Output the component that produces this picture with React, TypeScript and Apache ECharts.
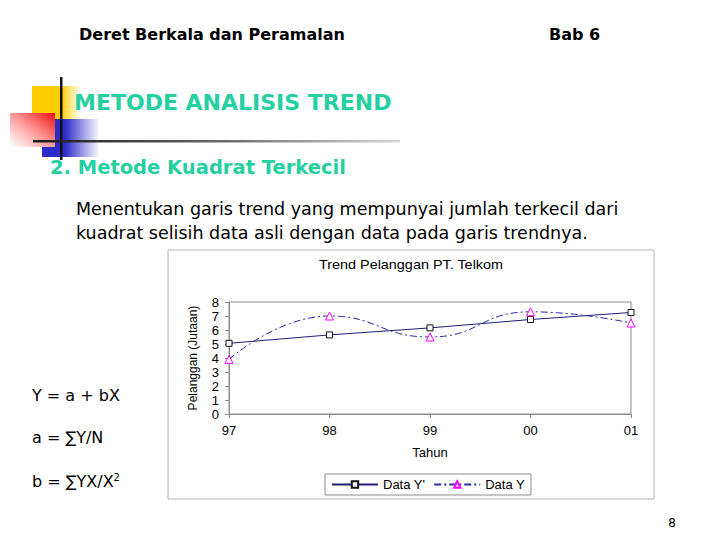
import React, { useEffect, useRef } from "react";
import * as echarts from "echarts";

const years = ["97", "98", "99", "00", "01"];
const trendValues = [5.05, 5.65, 6.15, 6.75, 7.25];
const actualValues = [3.9, 7.0, 5.5, 7.3, 6.5];
const seriesNames = ["Data Y'", "Data Y"];

const TEAL = "#24d0a0";
const SLIDE_FONT = "DejaVu Sans";
const CHART_FONT = "Liberation Sans";

export default function App() {
  const ref = useRef<HTMLDivElement>(null);
  useEffect(() => {
    if (!ref.current) return;
    const chart = echarts.init(ref.current, undefined, { renderer: "svg" });
    const lin = (x: number, y: number, x2: number, y2: number, stops: [number, string][]) => ({
      type: "linear", x, y, x2, y2, global: false,
      colorStops: stops.map(([offset, color]) => ({ offset, color })),
    });
    chart.setOption({
      animation: false,
      backgroundColor: "#ffffff",
      graphic: [
        { type: "text", x: 79, y: 34, style: { text: "Deret Berkala dan Peramalan", font: `bold 16px "${SLIDE_FONT}"`, fill: "#000", textVerticalAlign: "middle" } },
        { type: "text", x: 549, y: 34, style: { text: "Bab 6", font: `bold 16px "${SLIDE_FONT}"`, fill: "#000", textVerticalAlign: "middle" } },
        // decoration
        { type: "rect", shape: { x: 32, y: 86, width: 50, height: 34 }, style: { fill: lin(0, 0, 1, 0, [[0, "#ffcc00"], [0.6, "#ffcc00"], [1, "rgba(255,220,80,0)"]]) } },
        { type: "rect", shape: { x: 42, y: 119, width: 58, height: 38 }, style: { fill: lin(0, 0, 1, 0, [[0, "#2c2cc8"], [0.4, "#2c2cc8"], [1, "rgba(60,60,210,0)"]]) } },
        { type: "rect", shape: { x: 10, y: 113, width: 45, height: 34 }, style: { fill: lin(0, 1, 1, 0, [[0, "rgba(255,255,255,0.9)"], [0.5, "#ff9a9a"], [1, "#ee1111"]]) } },
        { type: "rect", shape: { x: 60, y: 77, width: 2.5, height: 83 }, style: { fill: "#111" } },
        { type: "rect", shape: { x: 33, y: 140, width: 367, height: 2.5 }, style: { fill: lin(0, 0, 1, 0, [[0, "#1a1a1a"], [0.5, "#666666"], [1, "#d8d8d8"]]) } },
        { type: "text", x: 74, y: 102, style: { text: "METODE ANALISIS TREND", font: `bold 22px "${SLIDE_FONT}"`, fill: TEAL, textVerticalAlign: "middle" } },
        { type: "text", x: 50, y: 167, style: { text: "2. Metode Kuadrat Terkecil", font: `bold 19.5px "${SLIDE_FONT}"`, fill: TEAL, textVerticalAlign: "middle" } },
        { type: "text", x: 76, y: 209, style: { text: "Menentukan garis trend yang mempunyai jumlah terkecil dari", font: `17.5px "${SLIDE_FONT}"`, fill: "#000", textVerticalAlign: "middle" } },
        { type: "text", x: 76, y: 233, style: { text: "kuadrat selisih data asli dengan data pada garis trendnya.", font: `17.5px "${SLIDE_FONT}"`, fill: "#000", textVerticalAlign: "middle" } },
        { type: "text", x: 32, y: 395, style: { text: "Y = a + bX", font: `16px "${SLIDE_FONT}"`, fill: "#000", textVerticalAlign: "middle" } },
        { type: "text", x: 32, y: 437, style: { text: "a = ∑Y/N", font: `16px "${SLIDE_FONT}"`, fill: "#000", textVerticalAlign: "middle" } },
        { type: "text", x: 32, y: 481, style: { text: "{m|b = ∑YX/X}{s|2}", fill: "#000", textVerticalAlign: "middle", rich: { m: { font: `16px "${SLIDE_FONT}"`, fill: "#000" }, s: { font: `10px "${SLIDE_FONT}"`, verticalAlign: "top", padding: [0, 0, 8, 0] } } } },
        { type: "text", x: 672, y: 523, style: { text: "8", font: `12px "${SLIDE_FONT}"`, fill: "#000", textVerticalAlign: "middle", textAlign: "center" } },
        // chart frame
        { type: "rect", z: -1, shape: { x: 168, y: 250, width: 486, height: 249 }, style: { fill: "rgba(255,255,255,0)", stroke: "#b4b4b4", lineWidth: 1 } },
        { type: "text", x: 411, y: 265, scaleX: 1.2, style: { text: "Trend Pelanggan PT. Telkom", font: `12px "${CHART_FONT}"`, fill: "#000", textAlign: "center", textVerticalAlign: "middle" } },
      ],
      grid: { left: 229, right: 89, top: 302, bottom: 126, show: true, borderColor: "#8c8c8c", borderWidth: 1, backgroundColor: "transparent" },
      legend: {
        left: 325, top: 474, orient: "horizontal",
        data: seriesNames,
        borderColor: "#8c8c8c", borderWidth: 1, padding: [4, 6, 4, 6], itemGap: 8,
        itemWidth: 46, itemHeight: 8,
        textStyle: { fontFamily: CHART_FONT, fontSize: 13, color: "#000" },
      },
      xAxis: {
        type: "category", data: years, boundaryGap: false,
        name: "Tahun", nameLocation: "middle", nameGap: 32,
        nameTextStyle: { fontFamily: CHART_FONT, fontSize: 13, color: "#000" },
        axisLine: { lineStyle: { color: "#8c8c8c" } },
        axisTick: { show: true, length: 4, lineStyle: { color: "#8c8c8c" } },
        axisLabel: { fontFamily: CHART_FONT, fontSize: 13, color: "#000", margin: 10 },
        splitLine: { show: false },
      },
      yAxis: {
        type: "value", min: 0, max: 8, interval: 1,
        name: "Pelanggan (Jutaan)", nameLocation: "middle", nameGap: 30,
        nameTextStyle: { fontFamily: CHART_FONT, fontSize: 12, color: "#000" },
        axisLine: { show: true, lineStyle: { color: "#8c8c8c" } },
        axisTick: { show: true, length: 4, lineStyle: { color: "#8c8c8c" } },
        axisLabel: { fontFamily: CHART_FONT, fontSize: 13, color: "#000", margin: 10 },
        splitLine: { show: false },
      },
      series: [
        {
          name: seriesNames[0], type: "line", data: trendValues,
          symbol: "rect", symbolSize: 6,
          lineStyle: { color: "#1f1f78", width: 1 },
          itemStyle: { color: "#ffffff", borderColor: "#111", borderWidth: 1 },
        },
        {
          name: seriesNames[1], type: "line", data: actualValues, smooth: 0.5,
          symbol: "triangle", symbolSize: 8,
          lineStyle: { color: "#2a2aa8", width: 1, type: [7, 3, 2, 3] },
          itemStyle: { color: "#ffffff", borderColor: "#ff00ff", borderWidth: 1 },
        },
      ],
    });
    return () => chart.dispose();
  }, []);
  return <div ref={ref} style={{ position: "absolute", left: 0, top: 0, width: 720, height: 540, background: "#fff" }} />;
}
